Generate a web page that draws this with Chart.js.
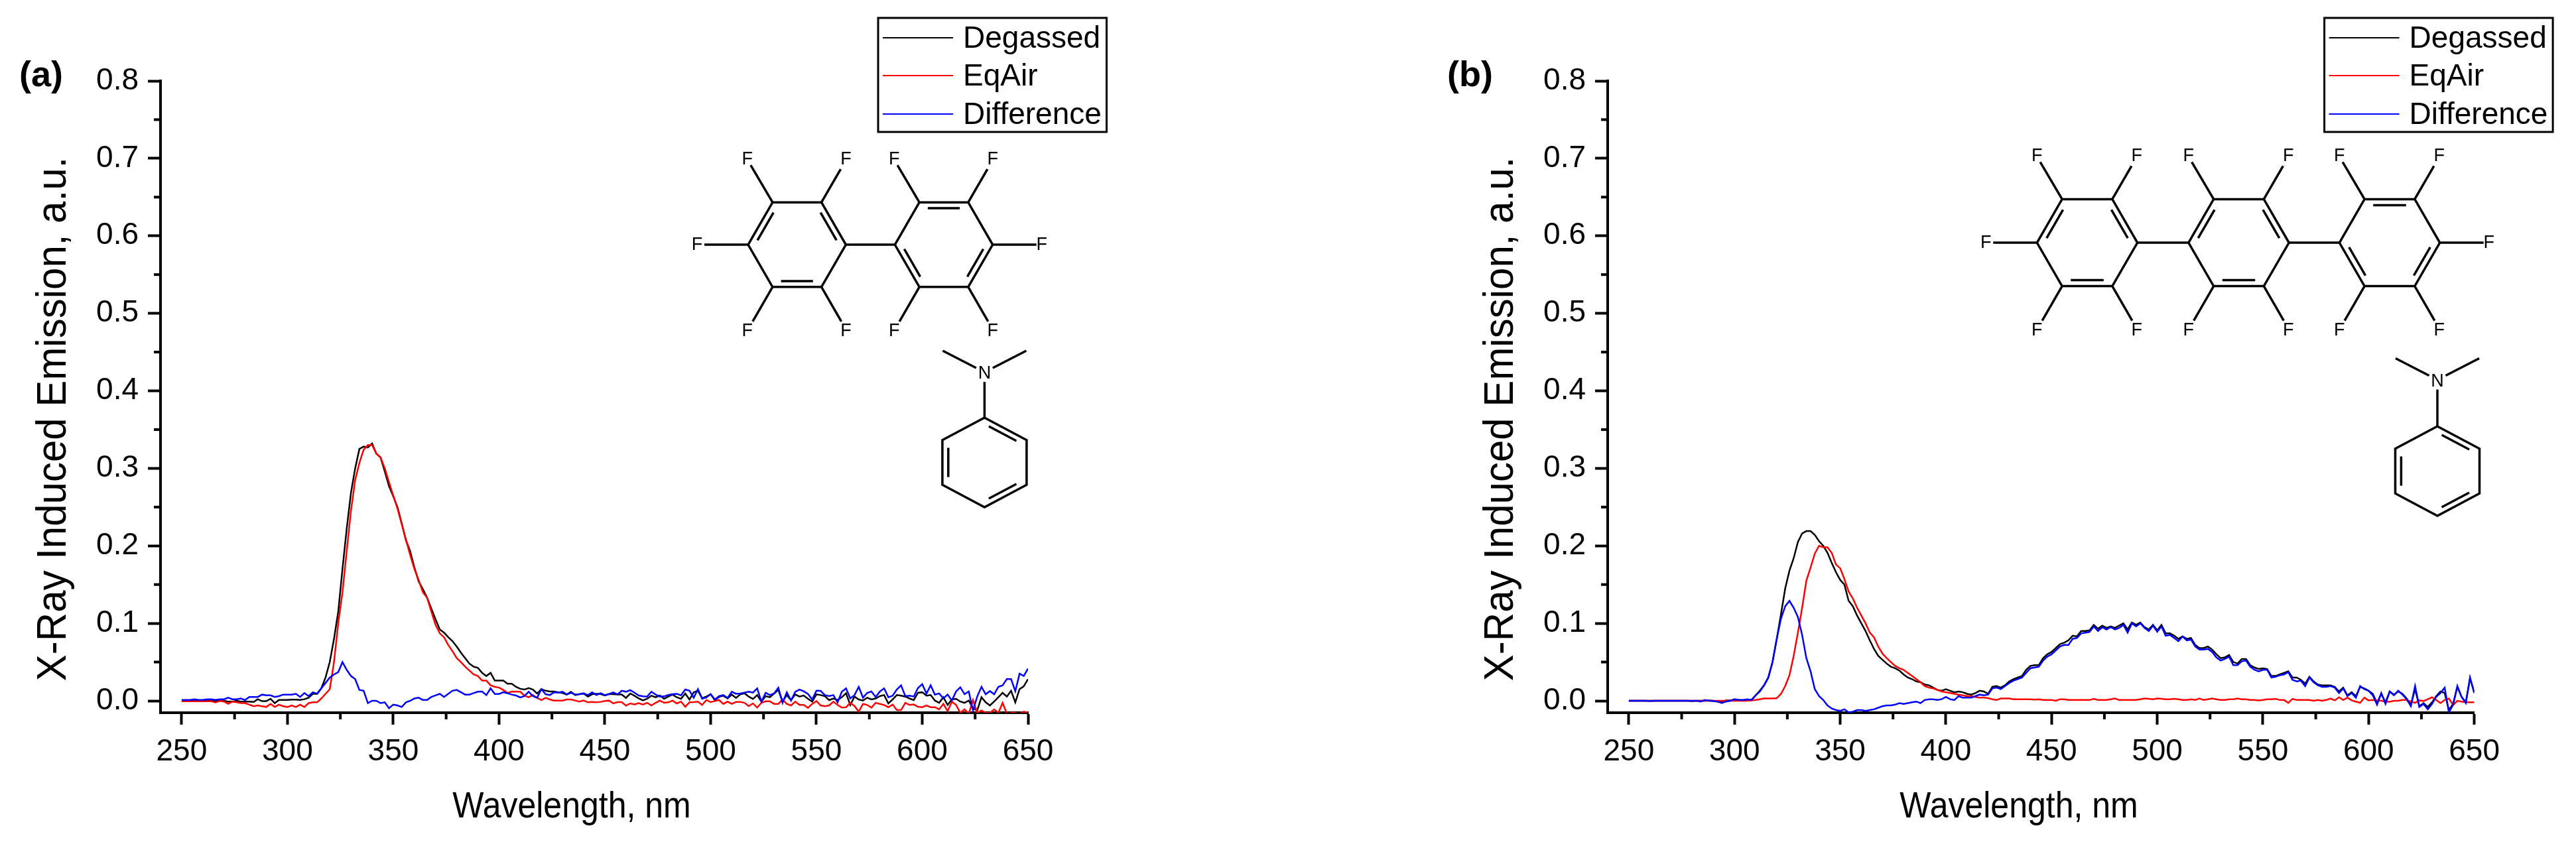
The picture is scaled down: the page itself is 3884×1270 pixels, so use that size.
<!DOCTYPE html>
<html>
<head>
<meta charset="utf-8">
<title>X-Ray Induced Emission</title>
<script src="https://cdn.jsdelivr.net/npm/chart.js@4"></script>
<style>
	html, body { margin: 0; padding: 0; background: #fff; }
	body { width: 3884px; height: 1270px; position: relative; overflow: hidden; }
	canvas { position: absolute; top: 0; }
	#chartA { left: 0; }
	#chartB { left: 1942px; }
</style>
</head>
<body>
<canvas id="chartA" width="1942" height="1270"></canvas>
<canvas id="chartB" width="1942" height="1270"></canvas>
<script>
var wavelengths = [
	250,252,254,256,258,260,262,264,266,268,
	270,272,274,276,278,280,282,284,286,288,
	290,292,294,296,298,300,302,304,306,308,
	310,312,314,316,318,320,322,324,326,328,
	330,332,334,336,338,340,342,344,346,348,
	350,352,354,356,358,360,362,364,366,368,
	370,372,374,376,378,380,382,384,386,388,
	390,392,394,396,398,400,402,404,406,408,
	410,412,414,416,418,420,422,424,426,428,
	430,432,434,436,438,440,442,444,446,448,
	450,452,454,456,458,460,462,464,466,468,
	470,472,474,476,478,480,482,484,486,488,
	490,492,494,496,498,500,502,504,506,508,
	510,512,514,516,518,520,522,524,526,528,
	530,532,534,536,538,540,542,544,546,548,
	550,552,554,556,558,560,562,564,566,568,
	570,572,574,576,578,580,582,584,586,588,
	590,592,594,596,598,600,602,604,606,608,
	610,612,614,616,618,620,622,624,626,628,
	630,632,634,636,638,640,642,644,646,648,650
];

var degassedA = [
	0,0,0,0,0,0,0,0,0,0,
	0,-.001,-.001,0,-.001,-.001,-.001,-.0015,.002,-.0005,
	-.0005,.0026,-.003,.001,.001,.001,.0015,.0015,.001,.002,
	.004,.009,.009,.016,.03,.05,.08,.115,.17,.222,
	.268,.3,.325,.328,.327,.332,.319,.314,.296,.277,
	.264,.25,.229,.207,.193,.172,.154,.144,.133,.119,
	.105,.092,.088,.082,.077,.07,.062,.055,.048,.044,
	.0425,.036,.032,.036,.026,.026,.026,.022,.022,.018,
	.0155,.0145,.0165,.0145,.0094,.015,.013,.012,.012,.011,
	.01,.008,.0115,.0074,.0085,.0095,.0054,.0085,.009,.0088,
	.007,.0085,.0085,.0082,.0082,.0037,.0094,.0065,.003,.0005,
	.0026,.0066,.0045,.0068,.0026,.0055,.008,.0045,.0026,.0094,
	.0015,.011,.013,.0032,.0054,.0085,.0009,.005,.0065,.003,
	.008,.0037,.0083,.0097,.0054,.0023,.0074,-.001,.006,.0046,
	.0094,.014,-.001,.0074,.0009,.0083,.0054,.0068,.0026,-.001,
	.0083,.0074,.006,.0009,.003,.0009,.0046,.0097,-.0054,.0054,
	.0017,.0003,.004,.0017,.003,.006,.0074,-.0034,.0017,.0074,
	.0066,.0054,.003,.0009,.0103,.011,.0066,.0074,.0003,-.0026,
	.0046,-.0054,.0017,.0026,-.001,-.0026,.0003,-.0097,-.0125,.0046,
	-.002,-.006,-.001,.0046,.0103,.0054,.013,-.002,.015,.0188,.028
];
var eqAirA = [
	-.0006,-.0006,-.0006,-.0006,-.0006,-.0006,-.0006,-.0006,-.002,0,
	-.001,-.004,-.001,-.002,-.003,-.003,-.005,-.007,-.006,-.007,
	-.008,-.004,-.008,-.005,-.007,-.008,-.006,-.008,-.005,-.008,
	-.003,-.002,-.002,.003,.009,.015,.05,.1,.14,.193,
	.245,.285,.307,.324,.33,.33,.319,.314,.3,.282,
	.265,.248,.228,.208,.188,.17,.156,.14,.133,.115,
	.098,.087,.082,.072,.064,.055,.05,.044,.039,.034,
	.032,.026,.026,.02,.018,.017,.014,.01,.012,.0117,
	.0117,.0066,.0046,.0074,.0037,.0009,.0037,.0017,.0003,.0003,
	.0003,.0017,.0017,.0003,-.0011,.0003,-.002,-.0014,-.002,-.0014,
	-.0003,.0003,-.0034,-.0017,-.0017,-.0063,-.0034,-.0046,-.0031,-.0048,
	-.0026,-.006,-.0026,.0003,-.0026,-.002,.0003,-.0034,-.0011,-.0077,
	-.002,-.0017,-.0011,-.0054,.0011,-.0017,-.0003,.0009,-.004,-.0011,
	-.004,-.0014,-.0014,-.0026,-.0068,-.0034,-.0088,-.0026,-.0006,-.0006,
	-.004,-.004,.0017,-.004,-.006,-.0011,-.0054,-.0054,-.0091,-.004,
	-.0003,-.006,-.0071,-.006,-.0011,-.0054,-.0088,-.0083,-.0026,-.0068,
	-.014,-.004,-.0054,-.0088,-.0026,-.004,-.0054,-.0083,-.0048,-.012,
	-.012,-.0026,-.0054,-.0048,-.0077,-.0083,-.006,-.0083,-.0083,-.0111,
	-.004,-.0134,-.0011,-.0054,-.0154,-.0111,-.0168,.0009,-.0154,-.0125,
	-.0154,-.0154,-.0111,-.0154,-.0026,-.0168,-.0154,-.0154,-.0168,-.014,-.0154
];
var differenceA = [
	.001,.001,.001,.002,.001,.001,.002,.002,.001,.002,
	.002,.004,.002,.002,.003,.001,.005,.005,.005,.008,
	.007,.007,.005,.006,.008,.008,.008,.009,.005,.01,
	.006,.011,.009,.016,.023,.03,.034,.037,.05,.04,
	.032,.028,.014,.013,-.003,0,0,-.003,-.002,-.0096,
	-.005,-.006,-.008,-.002,0,.003,.004,.001,.001,.005,
	.007,.009,.005,.009,.013,.014,.011,.008,.008,.01,
	.0117,.012,.0074,.016,.0088,.0088,.011,.0097,.008,.0068,
	.0043,.006,.0117,.006,.004,.015,.0085,.0074,.011,.0105,
	.0117,.0083,.0103,.008,.0085,.0095,.0074,.011,.0074,.0097,
	.0074,.0088,.0108,.0083,.013,.0117,.0138,.0105,.0068,.0057,
	.0054,.0117,.008,.0054,.0057,.0075,.0085,.009,.007,.0146,
	.013,.004,.015,.0026,.0043,.0085,.0017,.006,.0075,.0037,
	.0117,.009,.0094,.0105,.0117,.0105,.016,-.001,.0103,.0074,
	.0094,.0168,-.0026,.011,.0003,.0117,.0145,.0123,.0088,.0017,
	.0131,.0128,.0074,.006,.0074,-.002,.0117,.016,.003,.0074,
	.018,.004,.0103,.012,.005,.012,.016,.0046,.0065,.0145,
	.02,.006,.0066,.0054,.0165,.0215,.0094,.02,.008,.0095,
	.003,.008,.0003,.012,.0174,.0085,.012,-.0125,.0055,.018,
	.0085,.0125,.0085,.018,.02,.028,.028,.0123,.035,.032,.0416
];

var degassedB = [
	0,0,0,0,0,0,0,0,0,0,
	0,0,0,0,0,-.0005,0,0,0,.0005,
	0,-.001,-.001,.0005,.0005,.001,.001,.0005,.001,.001,
	.007,.013,.02,.03,.05,.08,.112,.145,.168,.184,
	.205,.216,.219,.219,.214,.206,.2,.191,.178,.166,
	.156,.15,.129,.122,.11,.1,.09,.078,.067,.058,
	.053,.048,.044,.042,.039,.034,.03,.028,.025,.024,
	.021,.02,.017,.014,.013,.015,.013,.011,.012,.011,
	.009,.008,.01,.013,.012,.009,.018,.019,.017,.02,
	.025,.028,.03,.032,.04,.045,.046,.046,.055,.06,
	.063,.068,.073,.075,.078,.084,.083,.09,.09,.091,
	.098,.093,.097,.094,.096,.094,.097,.1,.092,.101,
	.098,.101,.095,.092,.098,.091,.098,.087,.087,.084,
	.08,.083,.08,.081,.072,.068,.068,.07,.066,.06,
	.055,.056,.059,.05,.048,.054,.054,.046,.043,.041,
	.042,.041,.032,.032,.034,.036,.038,.03,.03,.027,
	.022,.031,.025,.021,.02,.02,.02,.018,.012,.017,
	.007,.011,.006,.018,.016,.013,.009,-.003,.009,-.002,
	.012,.008,.012,.009,.003,-.005,.015,-.007,-.003,-.008,
	-.002,.006,.012,.01,-.012,-.004,.018,.005,-.002,.029,.011
];
var eqAirB = [
	0,0,0,0,0,0,0,0,0,0,
	0,0,0,0,0,0,0,0,0,0,
	0,0,0,0,0,0,0,0,0,.0005,
	.001,.002,.003,.003,.003,.0034,.009,.019,.033,.058,
	.088,.12,.155,.172,.19,.2,.198,.198,.191,.176,
	.171,.157,.141,.132,.12,.11,.1,.088,.082,.07,
	.061,.055,.05,.045,.042,.04,.036,.032,.028,.024,
	.019,.017,.016,.014,.012,.011,.01,.009,.008,.007,
	.006,.006,.005,.004,.004,.0034,.002,.001,.003,.003,
	.003,.002,.002,.002,.002,.002,.0015,.002,.001,.001,
	.001,0,.002,.002,.001,.001,.001,.001,.001,.001,
	.0025,.001,.001,.001,.002,.003,.001,.001,.001,.001,
	.001,.002,.003,.0025,.002,.003,.0025,.002,.002,.0025,
	.002,.001,.001,.002,.001,.003,.001,.002,.003,.002,
	.001,.001,.002,.002,.003,.002,.002,.001,.001,.0005,
	.001,.002,.002,.0025,.001,.001,-.0026,.0025,.001,.001,
	.001,.001,0,.001,0,.001,.003,.0005,.0045,.001,
	.004,.0005,-.001,-.0026,.004,.0005,.001,.0005,0,-.001,
	-.0012,0,0,.001,.001,-.001,-.0026,.0005,-.0003,.002,
	.0045,.001,-.003,.001,.003,-.0055,0,-.001,-.002,-.002,-.002
];
var differenceB = [
	0,0,0,0,0,-.0005,0,0,0,0,
	0,0,0,0,0,0,0,-.001,.001,0,
	-.0005,-.001,-.003,-.001,0,.002,.001,.001,.002,.001,
	.007,.012,.02,.03,.05,.08,.106,.122,.129,.12,
	.108,.085,.055,.038,.015,.006,.001,-.006,-.01,-.012,
	-.013,-.011,-.015,-.014,-.012,-.012,-.013,-.012,-.011,-.009,
	-.007,-.006,-.006,-.005,-.003,-.004,-.003,-.002,-.001,-.003,
	.001,.002,.002,.001,.002,.005,.002,.001,.006,.004,
	.004,.004,.006,.008,.007,.008,.016,.017,.015,.019,
	.023,.026,.028,.03,.036,.042,.043,.044,.052,.057,
	.06,.065,.07,.072,.072,.08,.081,.087,.088,.089,
	.096,.09,.095,.092,.095,.092,.094,.098,.088,.1,
	.096,.1,.094,.09,.097,.089,.096,.084,.085,.081,
	.077,.083,.078,.079,.07,.066,.066,.067,.063,.056,
	.052,.054,.057,.046,.046,.051,.052,.044,.04,.038,
	.04,.04,.03,.031,.033,.034,.037,.027,.025,.026,
	.019,.03,.024,.02,.018,.018,.019,.017,.01,.016,
	.006,.01,.004,.019,.015,.013,.007,-.005,.01,-.004,
	.012,.007,.013,.008,.002,-.007,.019,-.008,-.004,-.011,
	-.004,.005,.01,.017,-.015,-.005,.019,.005,-.003,.03,.01
];

var seriesNames = ['Degassed', 'EqAir', 'Difference'];
var seriesColors = ['#000000', '#ff0000', '#0000ff'];
var xTicks = [250, 300, 350, 400, 450, 500, 550, 600, 650];
var xMinorTicks = [275, 325, 375, 425, 475, 525, 575, 625];
var yTicks = [0, 0.1, 0.2, 0.3, 0.4, 0.5, 0.6, 0.7, 0.8];
var yMinorTicks = [0.05, 0.15, 0.25, 0.35, 0.45, 0.55, 0.65, 0.75];
var xTitle = 'Wavelength, nm';
var yTitle = 'X-Ray Induced Emission, a.u.';

var fontName = '"Liberation Sans", Arial, sans-serif';

function line(ctx, x1, y1, x2, y2) {
	ctx.beginPath();
	ctx.moveTo(x1, y1);
	ctx.lineTo(x2, y2);
	ctx.stroke();
}

// outline of a ring, with the inner strokes of the double bonds
function ring(ctx, verts, cx, cy, doubles) {
	ctx.beginPath();
	verts.forEach(function (v, i) {
		if (i == 0) ctx.moveTo(v[0], v[1]);
		else ctx.lineTo(v[0], v[1]);
	});
	ctx.closePath();
	ctx.stroke();
	doubles.forEach(function (i) {
		var a = verts[i], b = verts[(i + 1) % 6];
		var ax = a[0] + (cx - a[0]) * 0.14, ay = a[1] + (cy - a[1]) * 0.14;
		var bx = b[0] + (cx - b[0]) * 0.14, by = b[1] + (cy - b[1]) * 0.14;
		line(ctx, ax + (bx - ax) * 0.12, ay + (by - ay) * 0.12, ax + (bx - ax) * 0.88, ay + (by - ay) * 0.88);
	});
}

// flat-topped fluorinated ring: 0 left, 1 top left, 2 top right, 3 right, 4 bottom right, 5 bottom left
var fluorineSpots = [
	{ bond: [-66, 0], text: [-77, 1] },
	{ bond: [-33, -56], text: [-38, -65] },
	{ bond: [29, -50], text: [37, -65] },
	{ bond: [66, 0], text: [74, 1] },
	{ bond: [30, 52], text: [37, 67] },
	{ bond: [-30, 52], text: [-38, 67] }
];

function fluoroRing(ctx, cx, cy, r, doubles, spots) {
	var verts = [];
	for (var i = 0; i < 6; i++) {
		var ang = Math.PI + i * Math.PI / 3;
		verts.push([cx + r * Math.cos(ang), cy + r * Math.sin(ang)]);
	}
	ring(ctx, verts, cx, cy, doubles);
	spots.forEach(function (i) {
		var s = fluorineSpots[i];
		line(ctx, verts[i][0], verts[i][1], verts[i][0] + s.bond[0], verts[i][1] + s.bond[1]);
		ctx.fillText('F', verts[i][0] + s.text[0], verts[i][1] + s.text[1]);
	});
}

function dimethylaniline(ctx, nx, ny, ringTop) {
	var rx = 63.5, ry = 67.5;
	var cy = ringTop + ry;
	var verts = [
		[nx, cy - ry], [nx + rx, cy - ry / 2], [nx + rx, cy + ry / 2],
		[nx, cy + ry], [nx - rx, cy + ry / 2], [nx - rx, cy - ry / 2]
	];
	ctx.fillText('N', nx, ny);
	line(ctx, nx - 12.5, ny - 9, nx - 63, ny - 35);
	line(ctx, nx + 12.5, ny - 9, nx + 63, ny - 35);
	line(ctx, nx, ny + 12, nx, ringTop);
	ring(ctx, verts, nx, cy, [0, 2, 4]);
}

// things Chart.js has no option for: minor ticks, free legend box, axis titles, molecules
var panelDecor = {
	id: 'panelDecor',
	afterDraw: function (chart, args, opts) {
		var ctx = chart.ctx;
		var area = chart.chartArea;
		var sx = chart.scales.x, sy = chart.scales.y;
		ctx.save();
		ctx.strokeStyle = '#000';
		ctx.fillStyle = '#000';

		// minor ticks
		ctx.lineWidth = 4;
		xMinorTicks.forEach(function (v) {
			var px = sx.getPixelForValue(v);
			line(ctx, px, area.bottom, px, area.bottom + 10);
		});
		yMinorTicks.forEach(function (v) {
			var py = sy.getPixelForValue(v);
			line(ctx, area.left, py, area.left - 10, py);
		});

		// panel letter and axis titles
		ctx.textAlign = 'left';
		ctx.textBaseline = 'alphabetic';
		ctx.font = 'bold 54px ' + fontName;
		ctx.fillText(opts.letter, area.left + opts.letterX, 130);

		// the reference text is a little stretched upward
		ctx.textAlign = 'center';
		ctx.font = '50px ' + fontName;
		ctx.save();
		ctx.translate(area.left + 620, 1233);
		ctx.scale(1, 1.12);
		ctx.fillText(xTitle, 0, 0);
		ctx.restore();
		ctx.save();
		ctx.translate(area.left - 143, 632);
		ctx.rotate(-Math.PI / 2);
		ctx.scale(1, 1.06);
		ctx.font = '60px ' + fontName;
		ctx.fillText(yTitle, 0, 0);
		ctx.restore();

		// legend
		var boxLeft = area.right - 226;
		ctx.lineWidth = 3;
		ctx.strokeRect(boxLeft, 27, 344.5, 172);
		var rows = [57, 114, 172];
		ctx.textAlign = 'left';
		ctx.font = '46px ' + fontName;
		seriesNames.forEach(function (name, i) {
			ctx.strokeStyle = seriesColors[i];
			ctx.lineWidth = 2;
			line(ctx, boxLeft + 7, rows[i], boxLeft + 113, rows[i]);
			ctx.fillStyle = '#000';
			ctx.fillText(name, boxLeft + 128, rows[i] + 15);
		});

		// molecules
		ctx.strokeStyle = '#000';
		ctx.fillStyle = '#000';
		ctx.lineWidth = 3.5;
		ctx.font = '27px ' + fontName;
		ctx.textAlign = 'center';
		ctx.textBaseline = 'middle';
		opts.rings.forEach(function (r) {
			fluoroRing(ctx, r.x, opts.ringY, opts.ringR, r.doubles, r.spots);
		});
		for (var i = 0; i < opts.rings.length - 1; i++) {
			line(ctx, opts.rings[i].x + opts.ringR, opts.ringY, opts.rings[i + 1].x - opts.ringR, opts.ringY);
		}
		dimethylaniline(ctx, opts.nX, opts.nY, opts.ringTop);
		ctx.restore();
	}
};

function makeChart(id, degassed, eqAir, difference, leftWidth, rightPad, decor) {
	var series = [degassed, eqAir, difference];
	return new Chart(document.getElementById(id), {
		type: 'line',
		data: {
			datasets: seriesNames.map(function (name, i) {
				return {
					label: name,
					borderColor: seriesColors[i],
					borderWidth: 2.5,
					pointRadius: 0,
					tension: 0,
					order: 3 - i,
					data: wavelengths.map(function (w, k) { return { x: w, y: series[i][k] }; })
				};
			})
		},
		plugins: [panelDecor],
		options: {
			responsive: false,
			animation: false,
			layout: { autoPadding: false, padding: { top: 122, right: rightPad, left: 0, bottom: 0 } },
			plugins: {
				legend: { display: false },
				tooltip: { enabled: false },
				panelDecor: decor
			},
			scales: {
				x: {
					type: 'linear',
					min: 240,
					max: 650,
					afterBuildTicks: function (s) { s.ticks = xTicks.map(function (v) { return { value: v }; }); },
					afterFit: function (s) { s.height = 195; },
					border: { display: true, color: '#000', width: 4 },
					grid: { drawOnChartArea: false, drawTicks: true, tickLength: 18, tickWidth: 4, tickColor: '#000' },
					ticks: {
						autoSkip: false, maxRotation: 0, padding: 14, color: '#000',
						font: { family: fontName, size: 46 },
						callback: function (v) { return String(v); }
					}
				},
				y: {
					min: -0.0154,
					max: 0.8,
					afterBuildTicks: function (s) { s.ticks = yTicks.map(function (v) { return { value: v }; }); },
					afterFit: function (s) { s.width = leftWidth; },
					border: { display: true, color: '#000', width: 4 },
					grid: { drawOnChartArea: false, drawTicks: true, tickLength: 19, tickWidth: 4, tickColor: '#000' },
					ticks: {
						autoSkip: false, padding: 14, color: '#000',
						font: { family: fontName, size: 46 },
						callback: function (v) { return v.toFixed(1); }
					}
				}
			}
		}
	});
}

var chartA = makeChart('chartA', degassedA, eqAirA, differenceA, 242, 392, {
	letter: '(a)', letterX: -213,
	ringY: 369, ringR: 73.7,
	rings: [
		{ x: 1201.7, doubles: [0, 2, 4], spots: [0, 1, 2, 4, 5] },
		{ x: 1423, doubles: [1, 3, 5], spots: [1, 2, 3, 4, 5] }
	],
	nX: 1484.4, nY: 564, ringTop: 630
});

var chartB = makeChart('chartB', degassedB, eqAirB, differenceB, 482, 153.4, {
	letter: '(b)', letterX: -242,
	ringY: 366, ringR: 75.7,
	rings: [
		{ x: 1205, doubles: [0, 2, 4], spots: [0, 1, 2, 4, 5] },
		{ x: 1433.5, doubles: [0, 2, 4], spots: [1, 2, 4, 5] },
		{ x: 1661, doubles: [1, 3, 5], spots: [1, 2, 3, 4, 5] }
	],
	nX: 1733, nY: 575.5, ringTop: 643
});
</script>
</body>
</html>
